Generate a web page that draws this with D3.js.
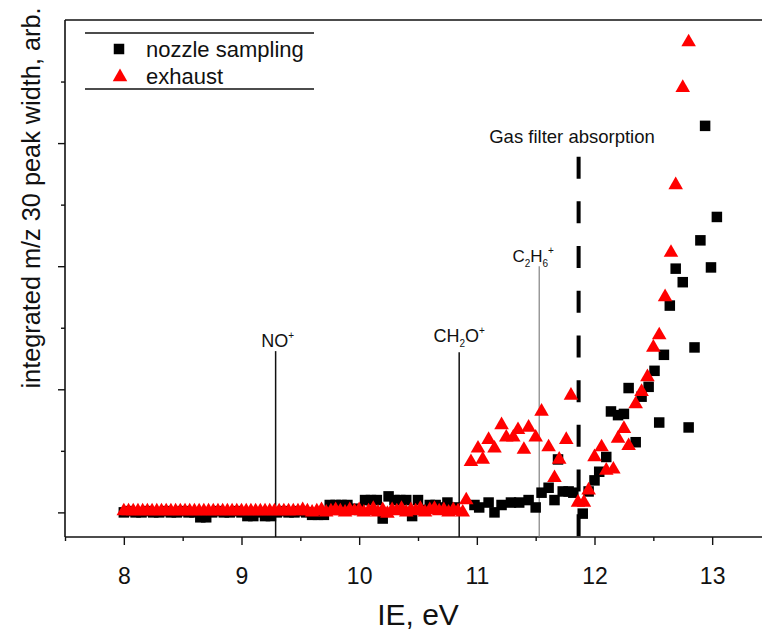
<!DOCTYPE html>
<html>
<head>
<meta charset="utf-8">
<script src="https://cdn.jsdelivr.net/npm/d3@7"></script>
<style>
  html, body { margin: 0; padding: 0; background: #ffffff; }
  svg { display: block; }
  text { font-family: Arial, "Liberation Sans", sans-serif; fill: #111; }
</style>
</head>
<body>
<svg id="chart" width="762" height="633"></svg>
<script>
// ---------------- data ----------------
const xTickLabels = [8, 9, 10, 11, 12, 13];
const xMinorTicks = [7.5, 8.5, 9.5, 10.5, 11.5, 12.5, 13.5];
const yMajorTicks = [0, 1, 2, 3];
const yMinorTicks = [0.5, 1.5, 2.5, 3.5];

// nozzle sampling (black squares)
const nozzleIE = [
  8.00, 8.05, 8.10, 8.15, 8.20, 8.25, 8.30, 8.35, 8.40, 8.45,
  8.50, 8.55, 8.60, 8.65, 8.70, 8.75, 8.80, 8.85, 8.90, 8.95,
  9.00, 9.05, 9.10, 9.15, 9.20, 9.25, 9.30, 9.35, 9.40, 9.45,
  9.50, 9.55, 9.60, 9.65, 9.70, 9.75, 9.80, 9.85, 9.90, 9.95,
  10.00, 10.05, 10.10, 10.15, 10.20, 10.25, 10.30, 10.35, 10.40, 10.45,
  10.50, 10.55, 10.60, 10.65, 10.70, 10.75, 10.81,
  10.98, 11.02, 11.10, 11.15, 11.21, 11.29, 11.36, 11.44, 11.50, 11.55,
  11.61, 11.66, 11.69, 11.73, 11.78, 11.82, 11.90, 11.95, 12.00, 12.04,
  12.10, 12.14, 12.20, 12.25, 12.29, 12.35, 12.40, 12.46, 12.51, 12.55,
  12.59, 12.64, 12.69, 12.75, 12.80, 12.85, 12.90, 12.94, 12.99, 13.04
];
const nozzleVal = [
  0.00, 0.01, 0.00, 0.00, 0.01, 0.00, 0.00, 0.01, 0.00, 0.00,
  0.01, 0.00, 0.00, -0.04, -0.04, 0.00, 0.01, 0.00, 0.00, 0.01,
  0.00, -0.03, -0.03, 0.00, -0.03, -0.03, 0.00, 0.01, 0.00, 0.00,
  0.01, 0.00, -0.02, -0.02, -0.02, 0.06, 0.06, 0.06, 0.06, 0.03,
  0.02, 0.10, 0.10, 0.10, -0.05, 0.13, 0.10, 0.10, 0.10, -0.03,
  0.10, 0.02, 0.06, 0.06, 0.04, 0.08, 0.04,
  0.06, 0.04, 0.08, 0.00, 0.06, 0.08, 0.08, 0.10, 0.04, 0.16,
  0.20, 0.10, 0.43, 0.17, 0.17, 0.16, -0.01, 0.17, 0.26, 0.33,
  0.45, 0.82, 0.79, 0.80, 1.01, 0.57, 0.94, 1.02, 1.15, 0.73,
  1.28, 1.68, 1.98, 1.87, 0.69, 1.34, 2.21, 3.14, 1.99, 2.40
];

// exhaust (red triangles)
const exhaustIE = [
  8.00, 8.04, 8.08, 8.12, 8.16, 8.20, 8.24, 8.28, 8.32, 8.36,
  8.40, 8.44, 8.48, 8.52, 8.56, 8.60, 8.64, 8.68, 8.72, 8.76,
  8.80, 8.84, 8.88, 8.92, 8.96, 9.00, 9.04, 9.08, 9.12, 9.16,
  9.20, 9.24, 9.28, 9.32, 9.36, 9.40, 9.44, 9.48, 9.52, 9.56,
  9.60, 9.64, 9.68, 9.72, 9.76, 9.80, 9.84, 9.88, 9.92, 9.96,
  10.00, 10.04, 10.08, 10.12, 10.16, 10.20, 10.24, 10.28, 10.32, 10.36,
  10.40, 10.44, 10.48, 10.52, 10.56, 10.60, 10.64, 10.68, 10.72, 10.76,
  10.80, 10.84, 10.88,
  10.91, 10.95, 11.01, 11.05, 11.10, 11.15, 11.21, 11.25, 11.31, 11.35,
  11.40, 11.44, 11.50, 11.55, 11.61, 11.66, 11.70, 11.76, 11.80, 11.86,
  11.91, 11.95, 12.00, 12.06, 12.10, 12.16, 12.20, 12.25, 12.29, 12.35,
  12.40, 12.45, 12.50, 12.55, 12.60, 12.65, 12.69, 12.75, 12.80
];
const exhaustVal = [
  0.01, 0.01, 0.01, 0.01, 0.01, 0.01, 0.01, 0.01, 0.01, 0.01,
  0.01, 0.01, 0.01, 0.01, 0.01, 0.01, 0.01, 0.01, 0.01, 0.01,
  0.01, 0.01, 0.01, 0.01, 0.01, 0.01, 0.01, 0.01, 0.01, 0.01,
  0.01, 0.01, 0.01, 0.01, 0.01, 0.01, 0.01, 0.01, 0.02, 0.01,
  0.00, 0.01, 0.02, 0.00, 0.01, 0.02, 0.01, 0.00, 0.02, 0.01,
  0.02, 0.00, 0.01, 0.03, 0.00, 0.02, -0.01, 0.02, 0.01, 0.03,
  0.00, 0.02, 0.01, 0.03, 0.00, 0.02, 0.03, 0.01, 0.02, 0.00,
  0.02, 0.01, 0.00,
  0.10, 0.41, 0.52, 0.43, 0.59, 0.52, 0.71, 0.61, 0.61, 0.67,
  0.51, 0.69, 0.61, 0.82, 0.53, 0.28, 0.43, 0.59, 0.95, 0.08,
  0.08, 0.18, 0.45, 0.53, 0.34, 0.35, 0.60, 0.68, 0.54, 0.88,
  0.98, 1.10, 1.34, 1.44, 1.75, 2.11, 2.66, 3.45, 3.82
];

// annotation lines
const markerNames = ["NO", "CH2O", "C2H6"];
const markerIE = [9.29, 10.85, 11.53];
const markerTop = [1.31, 1.30, 2.0];
const gasFilterIE = 11.865;
const gasFilterTop = 2.89;

// ---------------- drawing ----------------
const svg = d3.select("#chart");
const x = d3.scaleLinear().domain([7.5, 13.5]).range([65, 771]);
const y = d3.scaleLinear().domain([-0.2, 4.0]).range([537, 20]);
const x0 = x.range()[0];
const yBottom = y.range()[0], yTop = y.range()[1];

// frame top line
svg.append("line").attr("x1", x0).attr("x2", 762).attr("y1", yTop).attr("y2", yTop)
  .attr("stroke", "#111").attr("stroke-width", 1.6);

// x axis
const gx = svg.append("g").attr("transform", `translate(0,${yBottom})`);
gx.call(d3.axisBottom(x).tickValues(xTickLabels).tickSize(8).tickPadding(23).tickFormat(d3.format("d")));
const gxm = svg.append("g").attr("transform", `translate(0,${yBottom})`);
gxm.call(d3.axisBottom(x).tickValues(xMinorTicks).tickSize(4).tickFormat(""));
[gx, gxm].forEach(g => {
  g.select(".domain").attr("stroke", "#111").attr("stroke-width", 1.6);
  g.selectAll(".tick line").attr("stroke", "#111").attr("stroke-width", 1.4);
});
gxm.select(".domain").remove();
gx.selectAll(".tick text").attr("font-size", 23).attr("fill", "#111")
  .style("font-family", "Arial, 'Liberation Sans', sans-serif");
gx.select(".domain").attr("d", `M${x0},0H762`);

// y axis
const gy = svg.append("g").attr("transform", `translate(${x0},0)`);
gy.call(d3.axisLeft(y).tickValues(yMajorTicks).tickSize(7).tickFormat(""));
const gym = svg.append("g").attr("transform", `translate(${x0},0)`);
gym.call(d3.axisLeft(y).tickValues(yMinorTicks).tickSize(4).tickFormat(""));
gym.select(".domain").remove();
[gy, gym].forEach(g => {
  g.select(".domain").attr("stroke", "#111").attr("stroke-width", 1.6).attr("d", `M0,${yTop}V${yBottom}`);
  g.selectAll(".tick line").attr("stroke", "#111").attr("stroke-width", 1.4);
});

// axis titles
svg.append("text").attr("x", 418).attr("y", 625).attr("text-anchor", "middle")
  .attr("font-size", 30).text("IE, eV");
svg.append("text").attr("transform", `translate(40,198) rotate(-90)`).attr("text-anchor", "middle")
  .attr("font-size", 25.3).text("integrated m/z 30 peak width, arb.");

// annotation vertical lines
markerIE.forEach((v, i) => {
  svg.append("line").attr("x1", x(v)).attr("x2", x(v)).attr("y1", y(markerTop[i])).attr("y2", yBottom)
    .attr("stroke", i === 2 ? "#777" : "#111").attr("stroke-width", i === 2 ? 1.1 : 1.5);
});
// labels with sub/superscripts
function chemLabel(cx, baseY, parts, fs) {
  const t = svg.append("text").attr("x", cx).attr("y", baseY).attr("text-anchor", "middle").attr("font-size", fs);
  parts.forEach(p => {
    const ts = t.append("tspan").text(p.t);
    if (p.k === "sub") ts.attr("font-size", 10).attr("baseline-shift", "-5");
    if (p.k === "sup") ts.attr("font-size", 10).attr("baseline-shift", "8");
  });
  return t;
}
chemLabel(x(markerIE[0]) + 2, 347, [{t: "NO"}, {t: "+", k: "sup"}], 18);
chemLabel(x(markerIE[1]), 342, [{t: "CH"}, {t: "2", k: "sub"}, {t: "O"}, {t: "+", k: "sup"}], 18);
chemLabel(x(markerIE[2]) - 6, 262, [{t: "C"}, {t: "2", k: "sub"}, {t: "H"}, {t: "6", k: "sub"}, {t: "+", k: "sup"}], 17);

// gas filter dashed line
svg.append("line").attr("x1", x(gasFilterIE)).attr("x2", x(gasFilterIE))
  .attr("y1", y(gasFilterTop)).attr("y2", yBottom)
  .attr("stroke", "#000").attr("stroke-width", 4).attr("stroke-dasharray", "22,22.7");
svg.append("text").attr("x", 572).attr("y", 143).attr("text-anchor", "middle")
  .attr("font-size", 18.5).text("Gas filter absorption");

// data markers
const nozzle = nozzleIE.map((v, i) => ({x: v, y: nozzleVal[i]}));
const exhaust = exhaustIE.map((v, i) => ({x: v, y: exhaustVal[i]}));
const sq = 10.5;
svg.append("g").selectAll("rect").data(nozzle).join("rect")
  .attr("x", d => x(d.x) - sq / 2).attr("y", d => y(d.y) - sq / 2)
  .attr("width", sq).attr("height", sq).attr("fill", "#000");
const tri = d3.symbol().type(d3.symbolTriangle).size(92);
svg.append("g").selectAll("path").data(exhaust).join("path")
  .attr("d", tri).attr("transform", d => `translate(${x(d.x)},${y(d.y)})`)
  .attr("fill", "#ff0000");

// legend
svg.append("line").attr("x1", 85).attr("x2", 314).attr("y1", 33).attr("y2", 33).attr("stroke", "#111").attr("stroke-width", 1.5);
svg.append("line").attr("x1", 85).attr("x2", 314).attr("y1", 89).attr("y2", 89).attr("stroke", "#111").attr("stroke-width", 1.5);
svg.append("rect").attr("x", 119 - sq / 2).attr("y", 49 - sq / 2).attr("width", sq).attr("height", sq).attr("fill", "#000");
svg.append("path").attr("d", tri).attr("transform", "translate(120,77)").attr("fill", "#ff0000");
svg.append("text").attr("x", 146).attr("y", 57).attr("font-size", 22).text("nozzle sampling");
svg.append("text").attr("x", 146).attr("y", 84).attr("font-size", 22).text("exhaust");
</script>
</body>
</html>
